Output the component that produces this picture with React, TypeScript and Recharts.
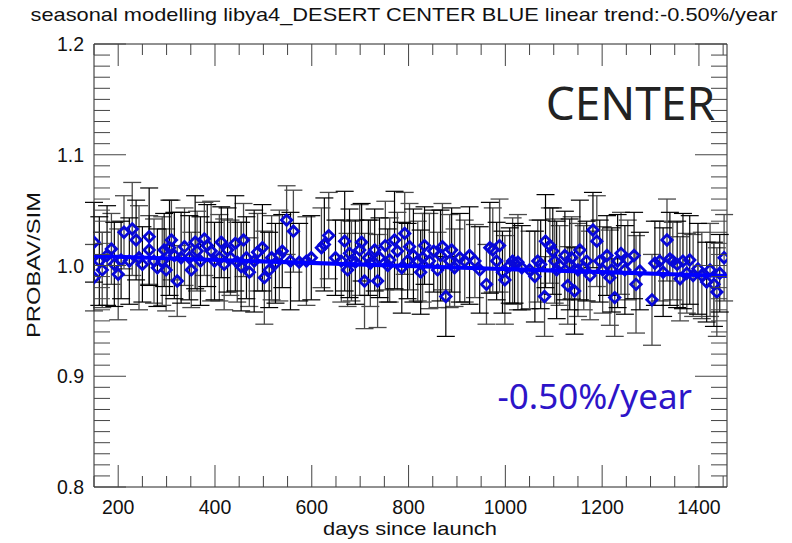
import { ScatterChart, Scatter, XAxis, YAxis, ErrorBar, ReferenceLine } from "recharts";

// days since launch of each measurement
const DAYS = [
  150, 150, 161, 167, 177, 186, 192, 200, 206, 212, 223, 229, 237, 243, 250, 264, 264, 274, 281, 291,
  295, 299, 306, 310, 316, 322, 330, 337, 347, 351, 359, 363, 370, 378, 384, 392, 399, 409, 413, 419,
  426, 432, 442, 446, 454, 459, 465, 471, 481, 488, 498, 502, 512, 517, 525, 533, 539, 548, 556, 562,
  574, 589, 599, 620, 626, 635, 649, 661, 668, 674, 678, 682, 690, 699, 703, 709, 717, 721, 730, 736,
  740, 752, 757, 761, 771, 777, 786, 792, 798, 802, 810, 819, 825, 829, 833, 843, 852, 860, 866, 870,
  877, 885, 889, 895, 906, 916, 926, 937, 947, 961, 968, 974, 982, 988, 994, 999, 1009, 1015, 1019, 1026,
  1034, 1050, 1061, 1067, 1073, 1081, 1083, 1092, 1098, 1102, 1106, 1112, 1123, 1129, 1133, 1137, 1143, 1150, 1154, 1162,
  1168, 1175, 1181, 1189, 1195, 1201, 1210, 1216, 1220, 1226, 1232, 1239, 1247, 1253, 1266, 1270, 1278, 1303, 1309, 1319,
  1326, 1334, 1340, 1346, 1355, 1361, 1367, 1375, 1381, 1388, 1398, 1406, 1416, 1423, 1431, 1437, 1443, 1452,
];

// PROBAV/SIM ratio
const RATIO = [
  1.021, 0.989, 1.004, 0.996, 1.009, 1.015, 1.001, 0.992, 1.005, 1.030, 1.004, 1.033, 1.023, 1.007, 1.001, 1.014, 1.026, 1.004, 0.998, 1.004,
  1.014, 0.996, 1.016, 1.023, 1.009, 0.986, 1.007, 1.017, 1.007, 0.996, 1.021, 1.013, 1.004, 1.024, 1.018, 1.013, 1.004, 1.007, 1.021, 1.001,
  1.014, 1.007, 1.020, 1.003, 0.999, 1.023, 1.007, 0.994, 1.004, 1.012, 1.016, 0.989, 0.996, 1.007, 1.002, 1.009, 1.013, 1.041, 1.004, 1.031,
  1.003, 1.004, 1.007, 1.016, 1.019, 1.027, 1.007, 1.004, 1.022, 0.996, 1.011, 1.004, 1.003, 1.014, 1.021, 0.986, 1.007, 1.002, 1.014, 0.986,
  1.007, 1.018, 1.000, 1.005, 1.023, 1.013, 0.998, 1.029, 1.004, 1.017, 1.009, 1.004, 0.994, 1.007, 1.018, 1.004, 1.013, 0.996, 1.009, 1.017,
  0.972, 1.004, 1.014, 0.998, 1.007, 1.004, 1.009, 1.004, 0.996, 0.983, 1.016, 1.014, 1.004, 1.018, 0.994, 0.987, 1.000, 1.004, 1.002, 1.003,
  0.998, 0.996, 0.990, 1.004, 1.001, 0.972, 1.022, 1.018, 1.013, 1.004, 0.996, 1.000, 1.009, 0.982, 1.001, 1.007, 0.977, 0.996, 1.014, 0.998,
  1.004, 0.991, 1.032, 1.022, 1.004, 0.996, 1.009, 0.989, 0.996, 0.971, 1.004, 1.011, 0.996, 1.005, 1.009, 0.983, 0.995, 0.969, 1.002, 1.004,
  0.994, 1.023, 1.006, 1.004, 1.001, 0.988, 1.004, 0.993, 1.005, 0.991, 0.997, 0.991, 0.985, 0.996, 0.983, 0.976, 0.993, 1.007,
];

// half-length of each error bar
const ERR = [
  0.036, 0.030, 0.040, 0.034, 0.045, 0.032, 0.038, 0.041, 0.035, 0.033,
  0.039, 0.042, 0.036, 0.047, 0.034, 0.031, 0.044, 0.038, 0.035, 0.040,
  0.033, 0.037, 0.043, 0.036, 0.039, 0.032, 0.041, 0.035, 0.038, 0.034,
  0.042, 0.036, 0.040, 0.033, 0.037, 0.045, 0.035, 0.039, 0.032, 0.041,
  0.038, 0.034, 0.043, 0.036, 0.040, 0.033, 0.037, 0.031, 0.046, 0.035,
  0.039, 0.042, 0.034, 0.038, 0.036, 0.041, 0.033, 0.031, 0.044, 0.037,
  0.035, 0.040, 0.038, 0.036, 0.042, 0.039, 0.034, 0.037, 0.045, 0.033,
  0.040, 0.036, 0.038, 0.041, 0.035, 0.043, 0.034, 0.039, 0.037, 0.042,
  0.036, 0.040, 0.033, 0.038, 0.044, 0.035, 0.041, 0.037, 0.034, 0.039,
  0.042, 0.036, 0.038, 0.040, 0.035, 0.043, 0.037, 0.034, 0.041, 0.039,
  0.036, 0.042, 0.038, 0.035, 0.040, 0.037, 0.044, 0.033, 0.039, 0.036,
  0.041, 0.038, 0.035, 0.042, 0.037, 0.040, 0.034, 0.039, 0.036, 0.043,
  0.038, 0.035, 0.041, 0.037, 0.040, 0.036, 0.042, 0.034, 0.039, 0.038,
  0.044, 0.036, 0.040, 0.035, 0.041, 0.037, 0.039, 0.042, 0.045, 0.038,
  0.036, 0.040, 0.034, 0.041, 0.037, 0.039, 0.036, 0.043, 0.038, 0.035,
  0.042, 0.037, 0.040, 0.036, 0.039, 0.044, 0.035, 0.041, 0.038, 0.036,
  0.040, 0.037, 0.042, 0.035, 0.039, 0.038, 0.043, 0.036, 0.040, 0.037,
  0.041, 0.039, 0.036, 0.042, 0.038, 0.040, 0.035, 0.039,
];

// linear trend end points
const TREND_DAYS = [150, 1458];
const TREND_RATIO = [1.0085, 0.9905];

const X_TICKS = [
  150, 200, 250, 300, 350, 400, 450, 500, 550, 600, 650, 700, 750, 800, 850, 900, 950, 1000,
  1050, 1100, 1150, 1200, 1250, 1300, 1350, 1400, 1450,
];
const X_LABELS = [200, 400, 600, 800, 1000, 1200, 1400];
const Y_LABELS = [0.8, 0.9, 1.0, 1.1, 1.2];
const Y_TICKS = Array.from({ length: 41 }, (_, i) => +(0.8 + i * 0.01).toFixed(2));

const W = 792;
const H = 543;
const TOP = 44;
const BOTTOM = 487;
const LEFT = 94;
const RIGHT = 727;
const FONT = "'Liberation Sans', Arial, sans-serif";

const points = DAYS.map((day, i) => ({ day, v: RATIO[i], err: ERR[i] }));
const darkBars = points.filter((_, i) => i % 2 === 0);
const greyBars = points.filter((_, i) => i % 2 === 1);
const trend = TREND_DAYS.map((day, i) => ({ day, v: TREND_RATIO[i] }));

const Diamond = (p: any) => {
  const { cx, cy } = p;
  const r = 5.2;
  return (
    <path
      d={`M${cx},${cy - r}L${cx + r},${cy}L${cx},${cy + r}L${cx - r},${cy}Z`}
      fill="none"
      stroke="#0808d8"
      strokeWidth={2.8}
    />
  );
};

const XTick = (p: any) => {
  const { x, y, payload } = p;
  const major = X_LABELS.includes(payload.value);
  const len = major ? 22 : 11;
  return (
    <g>
      <line x1={x} x2={x} y1={y} y2={y - len} stroke="#444" />
      <line x1={x} x2={x} y1={TOP} y2={TOP + len} stroke="#444" />
      {major && (
        <text x={x} y={y + 27} textAnchor="middle" fontSize={19.5} fontFamily={FONT} fill="#111">
          {payload.value}
        </text>
      )}
    </g>
  );
};

const YTick = (p: any) => {
  const { x, y, payload } = p;
  const major = Y_LABELS.some((v) => Math.abs(v - payload.value) < 1e-6);
  const len = major ? 32 : 16;
  return (
    <g>
      <line x1={x} x2={x + len} y1={y} y2={y} stroke="#444" />
      <line x1={RIGHT} x2={RIGHT - len} y1={y} y2={y} stroke="#444" />
      {major && (
        <text x={x - 10} y={y + 7} textAnchor="end" fontSize={19.5} fontFamily={FONT} fill="#111">
          {payload.value.toFixed(1)}
        </text>
      )}
    </g>
  );
};

export default function App() {
  return (
    <div style={{ position: "absolute", left: 0, top: 0, width: W, height: H, background: "#fff" }}>
      <ScatterChart
        width={W}
        height={H}
        margin={{ top: TOP, right: W - RIGHT, bottom: 0, left: 0 }}
      >
        <XAxis
          dataKey="day"
          type="number"
          domain={[150, 1458]}
          ticks={X_TICKS}
          interval={0}
          height={H - BOTTOM}
          tickSize={0}
          tickMargin={0}
          tickLine={false}
          tick={<XTick />}
          axisLine={{ stroke: "#222" }}
          allowDataOverflow
        />
        <YAxis
          dataKey="v"
          type="number"
          domain={[0.8, 1.2]}
          ticks={Y_TICKS}
          interval={0}
          width={LEFT}
          tickSize={0}
          tickMargin={0}
          tickLine={false}
          tick={<YTick />}
          axisLine={{ stroke: "#222" }}
          allowDataOverflow
        />
        <ReferenceLine y={1.2} stroke="#222" />
        <ReferenceLine x={1458} stroke="#222" />
        <Scatter data={greyBars} shape={<Diamond />} isAnimationActive={false}>
          <ErrorBar dataKey="err" direction="y" width={9} stroke="#4a4a4a" strokeWidth={1.3} />
        </Scatter>
        <Scatter data={darkBars} shape={<Diamond />} isAnimationActive={false}>
          <ErrorBar dataKey="err" direction="y" width={9} stroke="#000" strokeWidth={1.2} />
        </Scatter>
        <Scatter
          data={trend}
          line={{ stroke: "#0000ff", strokeWidth: 4 }}
          shape={() => <g />}
          isAnimationActive={false}
        />
      </ScatterChart>
      <svg
        width={W}
        height={H}
        style={{ position: "absolute", left: 0, top: 0, pointerEvents: "none" }}
      >
        <text x={404} y={21} textAnchor="middle" fontSize={19} fontFamily={FONT} fill="#111" textLength={747} lengthAdjust="spacingAndGlyphs">
          seasonal modelling libya4_DESERT CENTER BLUE linear trend:-0.50%/year
        </text>
        <text x={410} y={535} textAnchor="middle" fontSize={19} fontFamily={FONT} fill="#111" textLength={174} lengthAdjust="spacingAndGlyphs">
          days since launch
        </text>
        <text
          x={0}
          y={0}
          transform="translate(40,265) rotate(-90)"
          textAnchor="middle"
          fontSize={19}
          fontFamily={FONT}
          fill="#111"
          textLength={146}
          lengthAdjust="spacingAndGlyphs"
        >
          PROBAV/SIM
        </text>
        <text x={715} y={120} textAnchor="end" fontSize={46} fontFamily="'Noto Sans', sans-serif" fill="#222">
          CENTER
        </text>
        <text x={692} y={409} textAnchor="end" fontSize={35} fontFamily="'Noto Sans', sans-serif" fill="#2d14c8">
          -0.50%/year
        </text>
      </svg>
    </div>
  );
}
